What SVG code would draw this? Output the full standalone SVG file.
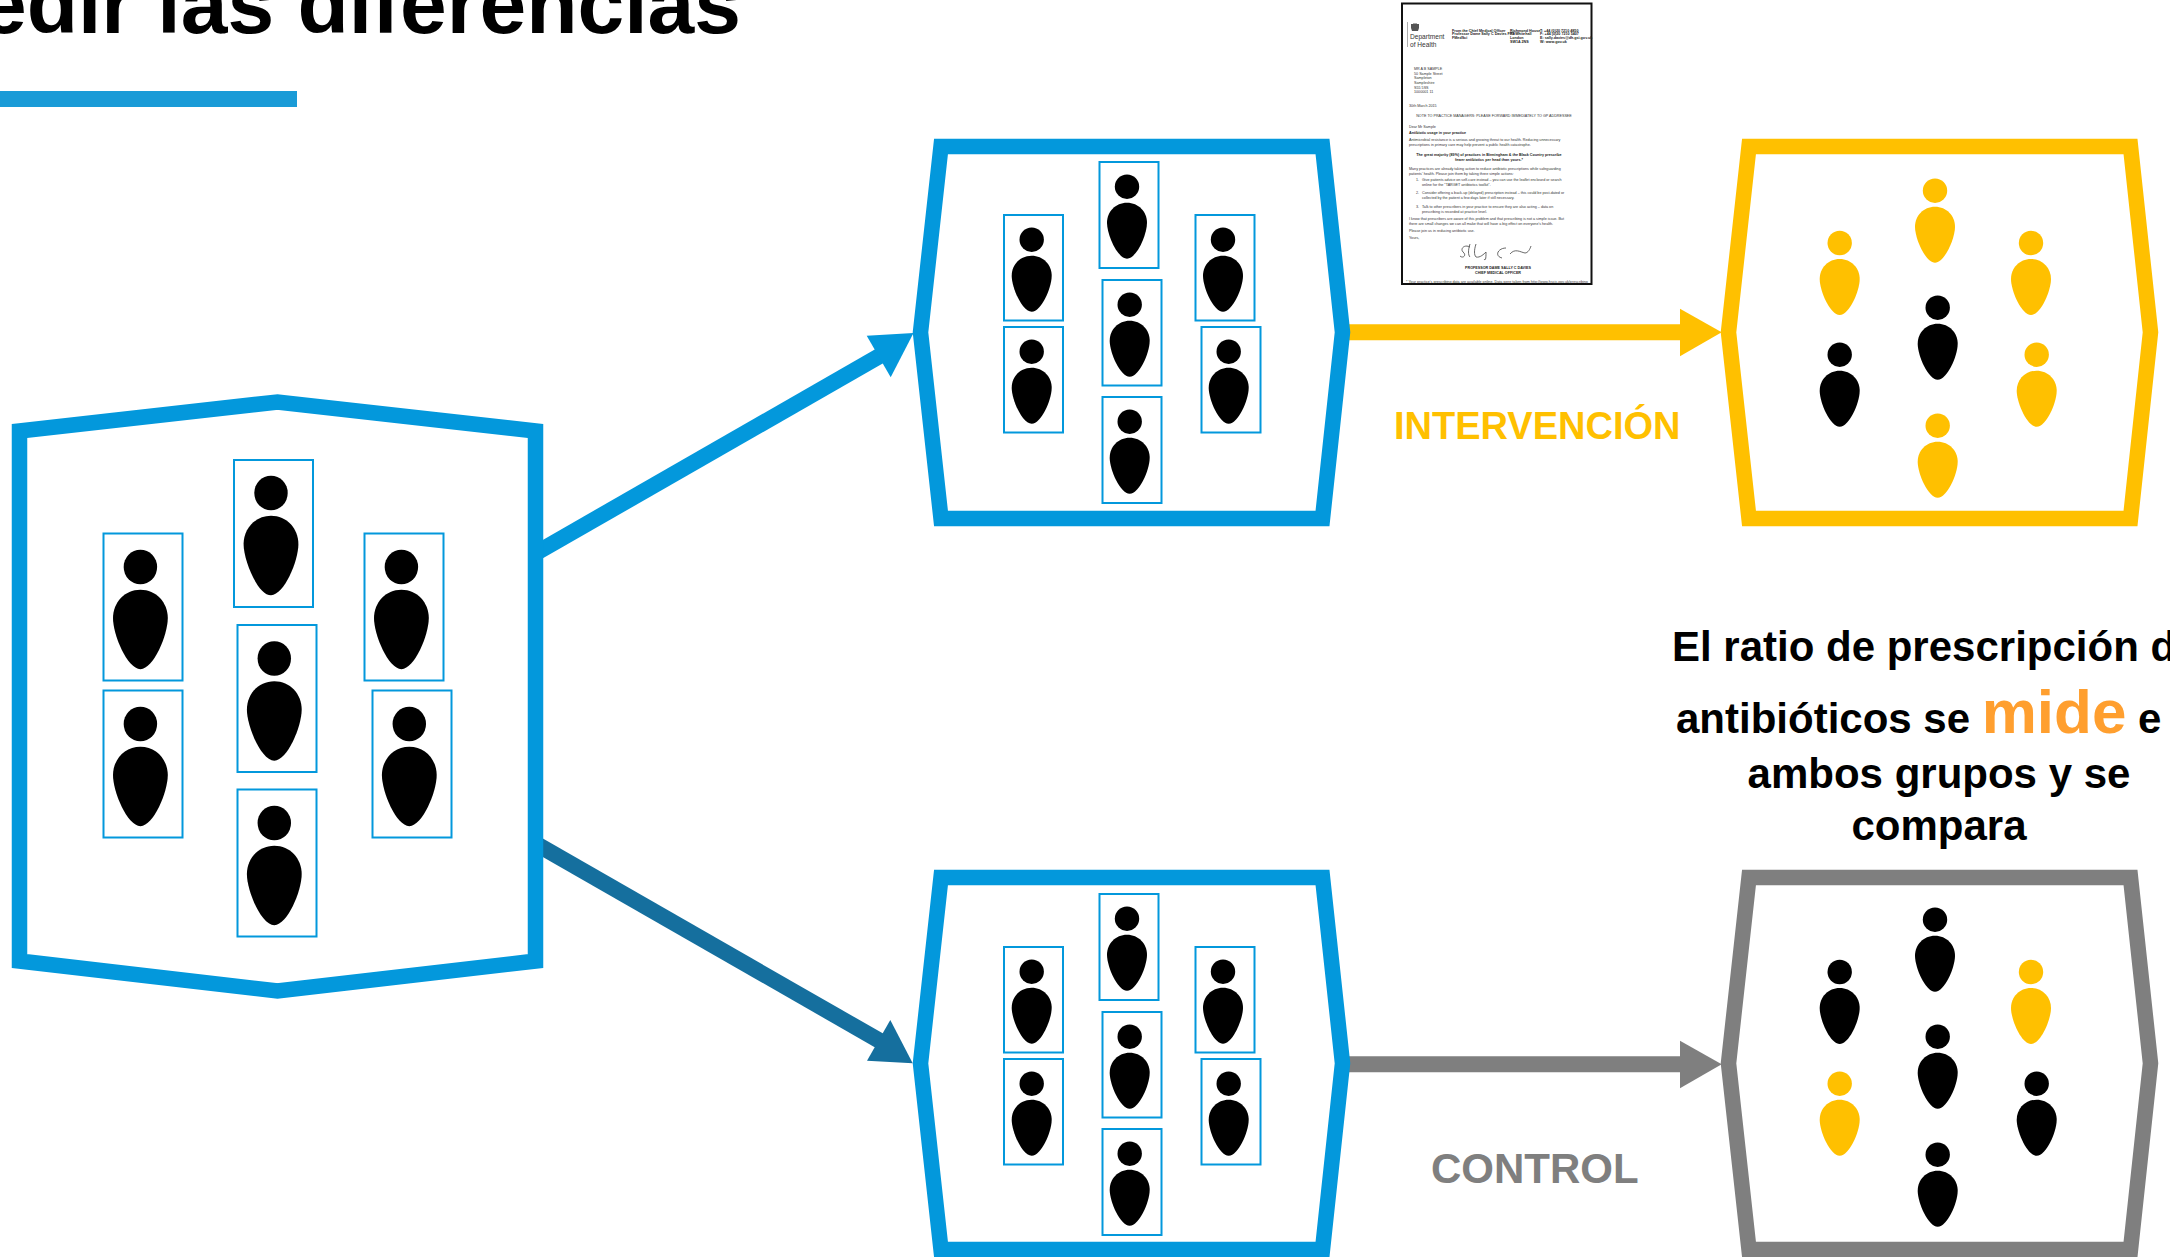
<svg xmlns="http://www.w3.org/2000/svg" width="2170" height="1257" viewBox="0 0 2170 1257">
<style>
text{font-family:"Liberation Sans",Arial,sans-serif}
.b{font-weight:700}
.hex{fill:#fff;stroke-width:15.5;stroke-linejoin:miter;stroke-miterlimit:10}
.blue{stroke:#0398DC}.yel{stroke:#FFC000}.gry{stroke:#7F7F7F}
.box{fill:#fff;stroke:#0398DC;stroke-width:2}
.k{fill:#000}.y{fill:#FFC000}
.d{font-size:3.7px;fill:#333}
.ds{font-size:3.7px;fill:#222;font-weight:700}
.m{text-anchor:middle}
.t{font-size:42px;font-weight:700;fill:#000}
</style>
<defs>
<g id="person"><circle cx="0" cy="0" r="12.2"/><path d="M0,16C11.5,16 20,25 20,36C20,48 9.5,72 0,72C-9.5,72 -20,48 -20,36C-20,25 -11.5,16 0,16Z"/></g>
<path id="hexa" d="M941,146.5H1322.5L1342.5,332.3L1322.5,518.5H941L920.5,332.3Z"/>
<g id="smallset">
<rect class="box" x="1099.5" y="162" width="59" height="106"/><use href="#person" class="k" x="1127" y="186.7"/>
<rect class="box" x="1004" y="215" width="59" height="105.5"/><use href="#person" class="k" x="1031.7" y="239.7"/>
<rect class="box" x="1195.5" y="215" width="59" height="105.5"/><use href="#person" class="k" x="1223" y="239.7"/>
<rect class="box" x="1004" y="327" width="59" height="105.5"/><use href="#person" class="k" x="1031.7" y="351.7"/>
<rect class="box" x="1102.5" y="280" width="59" height="105.5"/><use href="#person" class="k" x="1129.7" y="304.7"/>
<rect class="box" x="1201.5" y="327" width="59" height="105.5"/><use href="#person" class="k" x="1228.7" y="351.7"/>
<rect class="box" x="1102.5" y="397" width="59" height="106"/><use href="#person" class="k" x="1129.7" y="421.7"/>
</g>
</defs>
<rect width="2170" height="1257" fill="#fff"/>

<g id="title">
<text class="b" x="741" y="33" font-size="84" text-anchor="end" fill="#000">edir las diferencias</text>
<rect x="0" y="91" width="297" height="16" fill="#1A9BD7"/>
</g>

<g id="connectors">
<line x1="535" y1="553.6" x2="880" y2="355.8" stroke="#0398DC" stroke-width="16"/>
<polygon points="866.7,335.7 913.5,333 890.7,377.3" fill="#0398DC"/>
<line x1="535" y1="843.2" x2="880" y2="1041" stroke="#156F9E" stroke-width="16"/>
<polygon points="867,1060.7 912.7,1063.3 890.3,1020" fill="#156F9E"/>
<line x1="1345" y1="332.3" x2="1682" y2="332.3" stroke="#FFC000" stroke-width="16"/>
<polygon points="1680,308.7 1721.7,332.3 1680,356.3" fill="#FFC000"/>
<line x1="1345" y1="1064.3" x2="1682" y2="1064.3" stroke="#7F7F7F" stroke-width="16"/>
<polygon points="1680,1040.7 1721.7,1064.3 1680,1088.3" fill="#7F7F7F"/>
</g>

<g id="population">
<path class="hex blue" stroke-width="16" d="M19.5,431L277.5,402L535.5,431V961L277.5,991L19.5,961Z"/>
<g id="population-people">
<rect class="box" x="234" y="460" width="79" height="147"/><use href="#person" class="k" transform="translate(271,493) scale(1.37,1.42)"/>
<rect class="box" x="103.5" y="533.5" width="79" height="147"/><use href="#person" class="k" transform="translate(140.4,567) scale(1.37,1.42)"/>
<rect class="box" x="364.5" y="533.5" width="79" height="147"/><use href="#person" class="k" transform="translate(401.4,567) scale(1.37,1.42)"/>
<rect class="box" x="103.5" y="690.5" width="79" height="147"/><use href="#person" class="k" transform="translate(140.4,724) scale(1.37,1.42)"/>
<rect class="box" x="237.5" y="625" width="79" height="147"/><use href="#person" class="k" transform="translate(274.3,658.5) scale(1.37,1.42)"/>
<rect class="box" x="372.5" y="690.5" width="79" height="147"/><use href="#person" class="k" transform="translate(409.3,724) scale(1.37,1.42)"/>
<rect class="box" x="237.5" y="789.5" width="79" height="147"/><use href="#person" class="k" transform="translate(274.3,823) scale(1.37,1.42)"/>
</g>
</g>

<g id="group-intervention">
<use href="#hexa" class="hex blue"/>
<use href="#smallset"/>
</g>

<g id="group-control" transform="translate(0,732)">
<use href="#hexa" class="hex blue" transform="translate(0,-1)"/>
<use href="#smallset"/>
</g>

<g id="result-intervention">
<use href="#hexa" class="hex yel" transform="translate(808,0)"/>
<use href="#person" class="y" x="1935" y="190.7"/>
<use href="#person" class="y" x="1839.7" y="243"/>
<use href="#person" class="y" x="2031" y="243"/>
<use href="#person" class="k" x="1839.7" y="354.7"/>
<use href="#person" class="k" x="1937.7" y="307.7"/>
<use href="#person" class="y" x="2036.7" y="354.7"/>
<use href="#person" class="y" x="1937.7" y="425.7"/>
</g>

<g id="result-control">
<use href="#hexa" class="hex gry" transform="translate(808,731)"/>
<use href="#person" class="k" x="1935" y="919.7"/>
<use href="#person" class="k" x="1839.7" y="972"/>
<use href="#person" class="y" x="2031" y="972"/>
<use href="#person" class="y" x="1839.7" y="1083.7"/>
<use href="#person" class="k" x="1937.7" y="1036.7"/>
<use href="#person" class="k" x="2036.7" y="1083.7"/>
<use href="#person" class="k" x="1937.7" y="1154.7"/>
</g>

<g id="label-intervention"><text class="b" x="1394" y="439" font-size="38" fill="#FFC000">INTERVENCIÓN</text></g>
<g id="label-control"><text class="b" x="1431" y="1182.5" font-size="42" fill="#7F7F7F">CONTROL</text></g>

<g id="measure-text">
<text class="t" x="1672" y="660.7">El ratio de prescripción d</text>
<text class="t" x="1676" y="732.7">antibióticos se <tspan font-size="62" fill="#FF9F2F">mide</tspan> e</text>
<text class="t m" x="1939" y="788.3">ambos grupos y se</text>
<text class="t m" x="1939" y="840">compara</text>
</g>

<g id="letter">
<rect x="1402" y="3.5" width="189.5" height="280.5" fill="#fff" stroke="#111" stroke-width="2"/>
<line x1="1407.5" y1="22" x2="1407.5" y2="47" stroke="#777" stroke-width="0.6"/>
<path d="M1411,24h2l1,-1 1,1 1,-1 1,1h2v4l-1,3h-6l-1,-3z" fill="#555"/>
<text x="1410" y="39" font-size="6.6" fill="#333">Department</text>
<text x="1410" y="46.5" font-size="6.6" fill="#333">of Health</text>
<text class="ds" x="1452" y="31.5">From the Chief Medical Officer</text>
<text class="ds" x="1452" y="35.2">Professor Dame Sally C Davies FRS</text>
<text class="ds" x="1452" y="39">FMedSci</text>
<text class="ds" x="1510" y="31.5">Richmond House</text>
<text class="ds" x="1510" y="35.2">79 Whitehall</text>
<text class="ds" x="1510" y="39">London</text>
<text class="ds" x="1510" y="42.7">SW1A 2NS</text>
<text class="ds" x="1540" y="31.5">T:  +44 (0)20 7210 4850</text>
<text class="ds" x="1540" y="35.2">F:  +44 (0)20 7210 5407</text>
<text class="ds" x="1540" y="39">E:  sally.davies@dh.gsi.gov.uk</text>
<text class="ds" x="1540" y="42.7">W:  www.gov.uk</text>
<text class="d" x="1414" y="70">MR A B SAMPLE</text>
<text class="d" x="1414" y="74.7">50 Sample Street</text>
<text class="d" x="1414" y="79.3">Sampleton</text>
<text class="d" x="1414" y="84">Sampleshire</text>
<text class="d" x="1414" y="88.7">S55 5SS</text>
<text class="d" x="1414" y="92.5" font-size="2.8">1000001  11</text>
<text class="d" x="1409" y="106.5">30th March 2015</text>
<text class="d m" x="1494" y="117">NOTE TO PRACTICE MANAGERS: PLEASE FORWARD IMMEDIATELY TO GP ADDRESSEE</text>
<text class="d" x="1409" y="127.5">Dear Mr Sample</text>
<text class="ds" x="1409" y="134">Antibiotic usage in your practice</text>
<text class="d" x="1409" y="141">Antimicrobial resistance is a serious and growing threat to our health. Reducing unnecessary</text>
<text class="d" x="1409" y="146">prescriptions in primary care may help prevent a public health catastrophe.</text>
<text class="ds m" x="1489" y="155.5">The great majority (89%) of practices in Birmingham &amp; the Black Country prescribe</text>
<text class="ds m" x="1489" y="160.5">fewer antibiotics per head than yours.*</text>
<text class="d" x="1409" y="169.5">Many practices are already taking action to reduce antibiotic prescriptions while safeguarding</text>
<text class="d" x="1409" y="174.5">patients' health. Please join them by taking three simple actions:</text>
<text class="d" x="1416" y="180.5">1.</text>
<text class="d" x="1422" y="180.5">Give patients advice on self-care instead – you can use the leaflet enclosed or search</text>
<text class="d" x="1422" y="185.5">online for the "TARGET antibiotics toolkit".</text>
<text class="d" x="1416" y="194">2.</text>
<text class="d" x="1422" y="194">Consider offering a back-up (delayed) prescription instead – this could be post-dated or</text>
<text class="d" x="1422" y="199">collected by the patient a few days later if still necessary.</text>
<text class="d" x="1416" y="208">3.</text>
<text class="d" x="1422" y="208">Talk to other prescribers in your practice to ensure they are also acting – data on</text>
<text class="d" x="1422" y="213">prescribing is recorded at practice level.</text>
<text class="d" x="1409" y="220">I know that prescribers are aware of this problem and that prescribing is not a simple issue. But</text>
<text class="d" x="1409" y="225">there are small changes we can all make that will have a big effect on everyone's health.</text>
<text class="d" x="1409" y="232">Please join us in reducing antibiotic use.</text>
<text class="d" x="1409" y="239">Yours,</text>
<path d="M1470,247C1464,244 1460,249 1463,252C1467,255 1463,259 1460,256M1470,244C1468,250 1468,255 1470,257M1476,244C1474,250 1474,255 1476,257C1480,258 1484,254 1486,252C1486,256 1486,262 1484,259M1506,248C1498,248 1494,256 1502,258M1510,254C1515,248 1520,252 1525,253C1528,253 1530,249 1531,246" fill="none" stroke="#444" stroke-width="0.8"/>
<text class="ds m" x="1498" y="268.5">PROFESSOR DAME SALLY C DAVIES</text>
<text class="ds m" x="1498" y="273.5">CHIEF MEDICAL OFFICER</text>
<text class="d m" x="1497" y="282.5" font-size="3.2">* Your practice's prescribing data are available online. Data were taken from http://www.hscic.gov.uk/prescribing</text>
</g>
</svg>
